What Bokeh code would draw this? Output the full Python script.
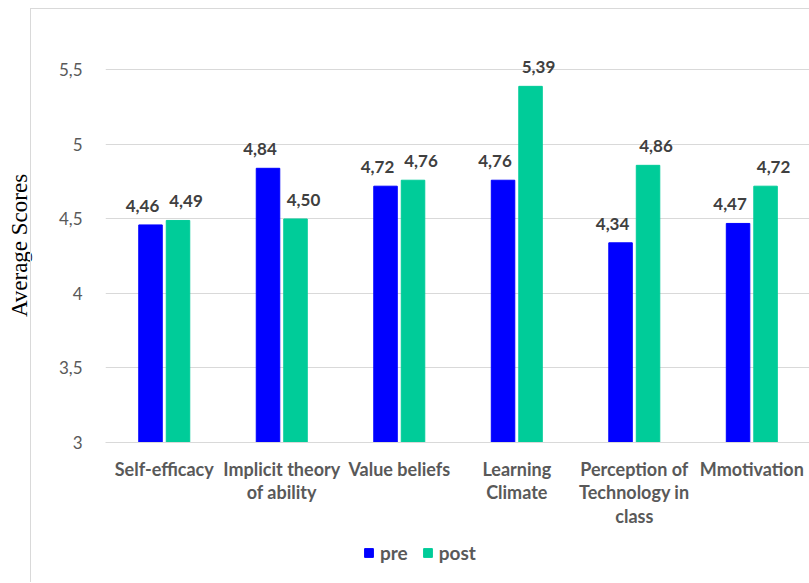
from bokeh.plotting import figure
from bokeh.models import (FixedTicker, Legend, LegendItem, ColumnDataSource, Range1d,
                          InlineStyleSheet)
from bokeh.layouts import column
from bokeh.transform import dodge
from bokeh.core.properties import value
from bokeh.embed import file_html
from bokeh.resources import INLINE

categories = ["Self-efficacy", "Implicit theory\nof ability", "Value beliefs",
              "Learning\nClimate", "Perception of\nTechnology in\nclass", "Mmotivation"]
pre = [4.46, 4.84, 4.72, 4.76, 4.34, 4.47]
post = [4.49, 4.50, 4.76, 5.39, 4.86, 4.72]
y_ticks = [3, 3.5, 4, 4.5, 5, 5.5]
y_tick_labels = ["3", "3,5", "4", "4,5", "5", "5,5"]
series_names = ["pre", "post"]

BLUE = "#0000FF"
GREEN = "#00CC99"
TICK_COLOR = "#595959"
LABEL_COLOR = "#404040"
FONT = "Lato"

idx = list(range(len(categories)))
src = ColumnDataSource(dict(
    x=idx,
    pre=pre,
    post=post,
    pre_txt=[f"{v:.2f}".replace(".", ",") for v in pre],
    post_txt=[f"{v:.2f}".replace(".", ",") for v in post],
))

border_top = InlineStyleSheet(css=":host::after { content: ''; position: absolute; "
                              "left: 30px; top: 8px; right: 0; bottom: 0; "
                              "border-left: 1px solid #d9d9d9; border-top: 1px solid #d9d9d9; "
                              "pointer-events: none; }")
border_bot = InlineStyleSheet(css=":host::after { content: ''; position: absolute; "
                              "left: 30px; top: 0; right: 0; bottom: 0; "
                              "border-left: 1px solid #d9d9d9; pointer-events: none; }")

p = figure(width=809, height=534, output_backend="svg", toolbar_location=None,
           x_range=Range1d(-0.5, 5.491), y_range=Range1d(3, 5.644),
           min_border_left=105, min_border_right=0, min_border_top=48,
           min_border_bottom=92)
p.stylesheets = [border_top]
p.outline_line_color = None
p.background_fill_color = "white"
p.border_fill_color = "white"

off = 0.117
w = 0.2
r_pre = p.vbar(x=dodge("x", -off, range=p.x_range), top="pre", bottom=3, width=w,
               source=src, fill_color=BLUE, line_color=BLUE)
r_post = p.vbar(x=dodge("x", off, range=p.x_range), top="post", bottom=3, width=w,
                source=src, fill_color=GREEN, line_color=GREEN)

p.text(x=dodge("x", -off, range=p.x_range), y="pre", text="pre_txt", source=src,
       text_align="center", text_baseline="bottom", y_offset=-13, x_offset=-8,
       text_font=value(FONT), text_font_style="bold", text_font_size="17px",
       text_color=LABEL_COLOR)
p.text(x=dodge("x", off, range=p.x_range), y="post", text="post_txt", source=src,
       text_align="center", text_baseline="bottom", y_offset=-13, x_offset=8,
       text_font=value(FONT), text_font_style="bold", text_font_size="17px",
       text_color=LABEL_COLOR)

# axes
p.xaxis.ticker = FixedTicker(ticks=idx)
p.xaxis.major_label_overrides = {i: c for i, c in zip(idx, categories)}
p.xaxis.major_label_text_font = FONT
p.xaxis.major_label_text_font_style = "bold"
p.xaxis.major_label_text_font_size = "18px"
p.xaxis.major_label_text_line_height = 1.08
p.xaxis.major_label_text_color = TICK_COLOR
p.xaxis.major_label_standoff = 9
p.xaxis.axis_line_color = "#d9d9d9"
p.xaxis.major_tick_line_color = None
p.xaxis.minor_tick_line_color = None

p.yaxis.ticker = FixedTicker(ticks=y_ticks)
p.yaxis.major_label_overrides = {t: l for t, l in zip(y_ticks, y_tick_labels)}
p.yaxis.major_label_text_font = FONT
p.yaxis.major_label_text_font_size = "17px"
p.yaxis.major_label_text_color = TICK_COLOR
p.yaxis.major_label_standoff = 17
p.yaxis.axis_line_color = None
p.yaxis.major_tick_line_color = None
p.yaxis.minor_tick_line_color = None
p.yaxis.axis_label = "Average Scores"
p.yaxis.axis_label_text_font = "Liberation Serif"
p.yaxis.axis_label_text_font_style = "normal"
p.yaxis.axis_label_text_font_size = "23px"
p.yaxis.axis_label_text_color = "black"
p.yaxis.axis_label_standoff = 24

p.xgrid.grid_line_color = None
p.ygrid.grid_line_color = "#d9d9d9"
p.ygrid.grid_line_width = 1

# legend strip below the chart
q = figure(width=809, height=48, output_backend="svg", toolbar_location=None,
           x_axis_location=None, y_axis_location=None,
           x_range=Range1d(0, 1), y_range=Range1d(10, 11),
           min_border=0)
q.stylesheets = [border_bot]
q.outline_line_color = None
q.xgrid.grid_line_color = None
q.ygrid.grid_line_color = None
l_pre = q.vbar(x="x", top="pre", bottom=3, width=w, source=src,
               fill_color=BLUE, line_color=BLUE, visible=False)
l_post = q.vbar(x="x", top="post", bottom=3, width=w, source=src,
                fill_color=GREEN, line_color=GREEN, visible=False)

legend = Legend(items=[LegendItem(label=series_names[0], renderers=[l_pre]),
                       LegendItem(label=series_names[1], renderers=[l_post])],
                orientation="horizontal", location=(258, 18))
legend.label_text_font = FONT
legend.label_text_font_style = "bold"
legend.label_text_font_size = "19px"
legend.label_text_color = TICK_COLOR
legend.border_line_color = None
legend.background_fill_alpha = 0
legend.inactive_fill_alpha = 0
legend.glyph_width = 11
legend.glyph_height = 11
legend.spacing = 14
legend.label_standoff = 6
q.add_layout(legend)

layout = column(p, q, spacing=0)
open("out.html", "w").write(file_html(layout, INLINE))
